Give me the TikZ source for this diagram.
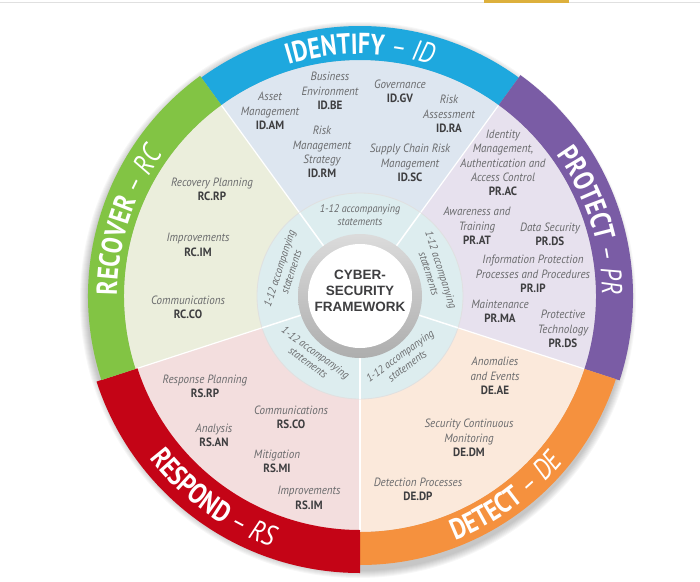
\documentclass[tikz,border=0pt]{standalone}
\usepackage{fontspec}
\setmainfont{PT Sans}
\newfontfamily\titlefont[FakeStretch=0.82]{PT Sans}
\newfontfamily\labelfont[FakeStretch=0.92]{PT Sans}
\newfontfamily\centerfont{Liberation Sans}
\usetikzlibrary{decorations.text}
\definecolor{idblue}{RGB}{30,168,222}
\definecolor{prpurple}{RGB}{122,92,165}
\definecolor{deorange}{RGB}{245,145,62}
\definecolor{rsred}{RGB}{196,4,22}
\definecolor{rcgreen}{RGB}{130,196,68}
\definecolor{idpale}{RGB}{221,230,240}
\definecolor{prpale}{RGB}{231,225,238}
\definecolor{depale}{RGB}{251,233,219}
\definecolor{rspale}{RGB}{243,222,222}
\definecolor{rcpale}{RGB}{235,238,220}
\definecolor{ringpale}{RGB}{221,237,239}
\definecolor{labelgray}{RGB}{105,106,108}
\definecolor{codegray}{RGB}{62,62,64}
\definecolor{centergray}{RGB}{62,62,64}
\definecolor{topgold}{RGB}{221,176,60}
\newcommand\subcode[1]{{\upshape\bfseries\color{codegray}#1}}
\newcommand\bandtext{\titlefont\bfseries\fontsize{29}{29}\selectfont}
\newcommand\bandit{\titlefont\itshape\fontsize{29}{29}\selectfont}

\begin{document}
\begin{tikzpicture}[x=1pt,y=1pt,
    lbl/.style={align=center,inner sep=0pt,text=labelgray,font=\labelfont\fontsize{12}{14.3}\selectfont\itshape},
    acc/.style={align=center,inner sep=0pt,text=labelgray,font=\labelfont\fontsize{11}{12.5}\selectfont\itshape}]
  \useasboundingbox (-360,-285) rectangle (340,296);
  \draw[black!12,line width=1pt] (-360,293.5) -- (340,293.5);
  \fill[topgold] (124,293) rectangle (209,296);
  \foreach \k in {0,...,7} \fill[black,opacity=0.03] (-2,-4) circle[radius=271+\k];

  \fill[idpale] (0,0) -- (126:236) arc[start angle=126,end angle=54,radius=236] -- cycle;
  \fill[prpale] (0,0) -- (54:236) arc[start angle=54,end angle=-18,radius=236] -- cycle;
  \fill[depale] (0,0) -- (-18:236) arc[start angle=-18,end angle=-90,radius=236] -- cycle;
  \fill[rspale] (0,0) -- (-90:236) arc[start angle=-90,end angle=-162,radius=236] -- cycle;
  \fill[rcpale] (0,0) -- (198:236) arc[start angle=198,end angle=126,radius=236] -- cycle;
  \foreach \a in {126,54,-18,-90,-162} \draw[white,line width=1.2pt] (0,0) -- (\a:236);

  \fill[idblue] (126:236) arc[start angle=126,end angle=54,radius=236] -- (54:270) arc[start angle=54,end angle=126,radius=270] -- cycle;
  \fill[prpurple] (54:236) arc[start angle=54,end angle=-18,radius=236] -- (-18:273) arc[start angle=-18,end angle=54,radius=273] -- cycle;
  \fill[deorange] (-18:236) arc[start angle=-18,end angle=-90,radius=236] -- (-90:269) arc[start angle=-90,end angle=-18,radius=269] -- cycle;
  \fill[rsred] (-90:234) arc[start angle=-90,end angle=-162,radius=234] -- (-162:277) arc[start angle=-162,end angle=-90,radius=277] -- cycle;
  \fill[rcgreen] (198:236) arc[start angle=198,end angle=126,radius=236] -- (126:272) arc[start angle=126,end angle=198,radius=272] -- cycle;

  \path[decorate,decoration={text along path,text align=center,text color=white,
    text={|\bandtext|IDENTIFY |\bandit|– ID}}] (126:242) arc[start angle=126,end angle=54,radius=242];
  \path[decorate,decoration={text along path,text align=center,text color=white,
    text={|\bandtext|PROTECT |\bandit|– PR}}] (54:242) arc[start angle=54,end angle=-18,radius=242];
  \path[decorate,decoration={text along path,text align=center,text color=white,
    text={|\bandtext|DETECT |\bandit|– DE}}] (-90:262) arc[start angle=-90,end angle=-18,radius=262];
  \path[decorate,decoration={text along path,text align=center,text color=white,
    text={|\bandtext|RESPOND |\bandit|– RS}}] (-162:266) arc[start angle=-162,end angle=-90,radius=266];
  \path[decorate,decoration={text along path,text align=center,text color=white,
    text={|\bandtext|RECOVER |\bandit|– RC}}] (198:243) arc[start angle=198,end angle=126,radius=243];

  \fill[ringpale] (0,0) circle[radius=103];
  \draw[black!12,line width=0.8pt] (0,0) circle[radius=103];
  \foreach \a in {126,54,-18,-90,-162} \draw[white,line width=1.5pt] (\a:60) -- (\a:103);
  \shade[top color=black!14,bottom color=black!32] (0,0) circle[radius=62];
  \fill[white] (0,0) circle[radius=52];
  \node[font=\centerfont\bfseries\fontsize{13.5}{16}\selectfont,text=centergray,align=center] (csf) at (0,5) {CYBER-\\SECURITY\\FRAMEWORK};

  \node[acc] (acc1) at (90:81) {1-12 accompanying\\statements};
  \node[acc,rotate=-72] (acc2) at (18:79) {1-12 accompanying\\statements};
  \node[acc,rotate=36] (acc3) at (-56:78) {1-12 accompanying\\statements};
  \node[acc,rotate=-36] (acc4) at (-128:78) {1-12 accompanying\\statements};
  \node[acc,rotate=72] (acc5) at (161:79) {1-12 accompanying\\statements};

  \node[lbl] (idam) at (-90,185) {Asset\\Management\\\subcode{ID.AM}};
  \node[lbl] (idbe) at (-30,205) {Business\\Environment\\\subcode{ID.BE}};
  \node[lbl] (idgv) at (40,205) {Governance\\\subcode{ID.GV}};
  \node[lbl] (idra) at (89,182) {Risk\\Assessment\\\subcode{ID.RA}};
  \node[lbl] (idrm) at (-38,144) {Risk\\Management\\Strategy\\\subcode{ID.RM}};
  \node[lbl] (idsc) at (50,133) {Supply Chain Risk\\Management\\\subcode{ID.SC}};

  \node[lbl] (prac) at (143,133) {Identity\\Management,\\Authentication and\\Access Control\\\subcode{PR.AC}};
  \node[lbl] (prat) at (117,70) {Awareness and\\Training\\\subcode{PR.AT}};
  \node[lbl] (prds) at (190,62) {Data Security\\\subcode{PR.DS}};
  \node[lbl] (prip) at (173,22) {Information Protection\\Processes and Procedures\\\subcode{PR.IP}};
  \node[lbl] (prma) at (140,-15) {Maintenance\\\subcode{PR.MA}};
  \node[lbl] (prpt) at (203,-33) {Protective\\Technology\\\subcode{PR.DS}};

  \node[lbl] (deae) at (135,-80) {Anomalies\\and Events\\\subcode{DE.AE}};
  \node[lbl] (dedm) at (109,-142) {Security Continuous\\Monitoring\\\subcode{DE.DM}};
  \node[lbl] (dedp) at (58,-193) {Detection Processes\\\subcode{DE.DP}};

  \node[lbl] (rsrp) at (-155,-90) {Response Planning\\\subcode{RS.RP}};
  \node[lbl] (rsco) at (-69,-121) {Communications\\\subcode{RS.CO}};
  \node[lbl] (rsan) at (-146,-139) {Analysis\\\subcode{RS.AN}};
  \node[lbl] (rsmi) at (-83,-165) {Mitigation\\\subcode{RS.MI}};
  \node[lbl] (rsim) at (-51,-202) {Improvements\\\subcode{RS.IM}};

  \node[lbl] (rcrp) at (-148,107) {Recovery Planning\\\subcode{RC.RP}};
  \node[lbl] (rcim) at (-162,51) {Improvements\\\subcode{RC.IM}};
  \node[lbl] (rcco) at (-172,-11) {Communications\\\subcode{RC.CO}};
\end{tikzpicture}
\end{document}
